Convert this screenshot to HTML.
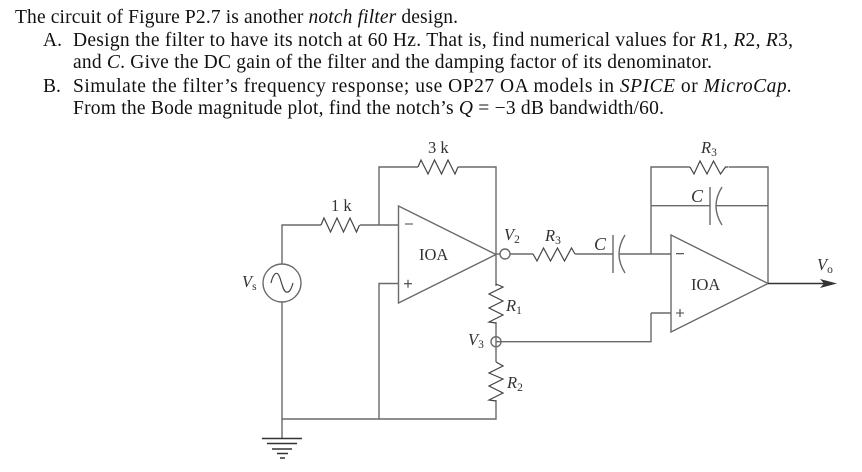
<!DOCTYPE html>
<html><head><meta charset="utf-8"><style>
html,body{margin:0;padding:0;background:#fff}
svg{display:block}
text{font-family:"Liberation Serif",serif}
.t{font-size:19.5px;fill:#111}
.l{font-size:16.500px;fill:#333}
.c{font-size:18px;fill:#333}
.s{font-size:11.500px}
.w{fill:none;stroke:#6a6a6a;stroke-width:1.4}
.z{fill:none;stroke:#444;stroke-width:1.2}
</style></head><body>
<svg width="862" height="472" viewBox="0 0 862 472" xmlns="http://www.w3.org/2000/svg">
<text class="t" x="15" y="23" textLength="443">The circuit of Figure P2.7 is another <tspan font-style="italic">notch filter</tspan> design.</text>
<text class="t" x="43" y="46">A.</text>
<text class="t" x="73" y="46" textLength="720">Design the filter to have its notch at 60 Hz. That is, find numerical values for <tspan font-style="italic">R</tspan>1, <tspan font-style="italic">R</tspan>2, <tspan font-style="italic">R</tspan>3,</text>
<text class="t" x="73" y="68" textLength="639">and <tspan font-style="italic">C</tspan>. Give the DC gain of the filter and the damping factor of its denominator.</text>
<text class="t" x="43" y="92">B.</text>
<text class="t" x="73" y="92" textLength="719">Simulate the filter’s frequency response; use OP27 OA models in <tspan font-style="italic">SPICE</tspan> or <tspan font-style="italic">MicroCap.</tspan></text>
<text class="t" x="73" y="114" textLength="591">From the Bode magnitude plot, find the notch’s <tspan font-style="italic">Q</tspan> = −3 dB bandwidth/60.</text>

<path class="w" d="M282 264V225H321M360 225H398M379 225V167H418M458 167H496V283M398 283.500H379V419M282 302V438M282 419H496V400M398.500 206V303L496 254.500Z"/>
<path class="z" d="M321 225l3-7 6.500 14 6.500-14 6.500 14 6.500-14 6.500 14 3-7"/>
<path class="z" d="M418 167l3-7 7 14 6.500-14 7 14 6.500-14 7 14 3-7"/>
<circle class="w" cx="282" cy="283" r="19"/>
<path class="z" d="M271 283c2-9 5-11 7-9 3 3 4 16 8 18 3 1 5-2 7-9"/>
<path class="w" d="M262 438.500H302M267 443.500H297M272 449H292M277 453.500H288M280 458H285" style="stroke:#333"/>
<path class="w" d="M510 254H533M575 254H613M619 254H671M651 254V167H690M729 167H768V283.500M651 205.700H710M716 205.700H768M671 235V332L768 283.500Z"/>
<path class="w" d="M613 235V273M710 187V225"/>
<path class="w" d="M625 235Q613 254 625 273M722 187Q710 206 722 225"/>
<path class="z" d="M533 254l4 7 6.500-13 7 13 7-13 7 13 7-13 3.500 6"/>
<path class="z" d="M690 167l4 7 6-13 7 13 6.500-13 7 13 5-7h3"/>
<path d="M768 283.500H825" stroke="#333" stroke-width="1.4"/>
<path d="M820 279L837 283.500L820 288L824 283.500Z" fill="#333"/>
<circle class="w" cx="505" cy="254" r="5"/>
<path class="w" d="M496 254H500"/>
<path class="w" d="M651 313H671M651 313V341.700H496M496 322V362M496 283V286"/>
<circle class="w" cx="496" cy="341.700" r="5"/>
<path class="z" d="M496 284l7 3-14 7 14 7-14 7 14 7-14 7 7 1"/>
<path class="z" d="M496 362l7 4-14 7 14 6-14 7 14 7-14 7 7 1"/>
<path d="M405 224H413M404 283.700H412M408 279.700V287.700M676 253.700H684M676 313H684M680 309V317" stroke="#444" stroke-width="1.100"/>

<text class="l" x="428" y="153">3 k</text>
<text class="l" x="331" y="211">1 k</text>
<text class="l" x="419" y="260">IOA</text>
<text class="l" x="691" y="290">IOA</text>
<text class="l" x="242" y="287" font-style="italic">V<tspan class="s" dy="3" font-style="normal">s</tspan></text>
<text class="l" x="504" y="240" font-style="italic">V<tspan class="s" dy="3" font-style="normal">2</tspan></text>
<text class="l" x="545" y="241" font-style="italic">R<tspan class="s" dy="3" font-style="normal">3</tspan></text>
<text class="c" x="594" y="250" font-style="italic">C</text>
<text class="l" x="701" y="153" font-style="italic">R<tspan class="s" dy="3" font-style="normal">3</tspan></text>
<text class="c" x="691" y="202" font-style="italic">C</text>
<text class="l" x="817" y="270" font-style="italic">V<tspan class="s" dy="3" font-style="normal">o</tspan></text>
<text class="l" x="506" y="311" font-style="italic">R<tspan class="s" dy="3" font-style="normal">1</tspan></text>
<text class="l" x="468" y="345" font-style="italic">V<tspan class="s" dy="3" font-style="normal">3</tspan></text>
<text class="l" x="507" y="388" font-style="italic">R<tspan class="s" dy="3" font-style="normal">2</tspan></text>
</svg>
</body></html>
